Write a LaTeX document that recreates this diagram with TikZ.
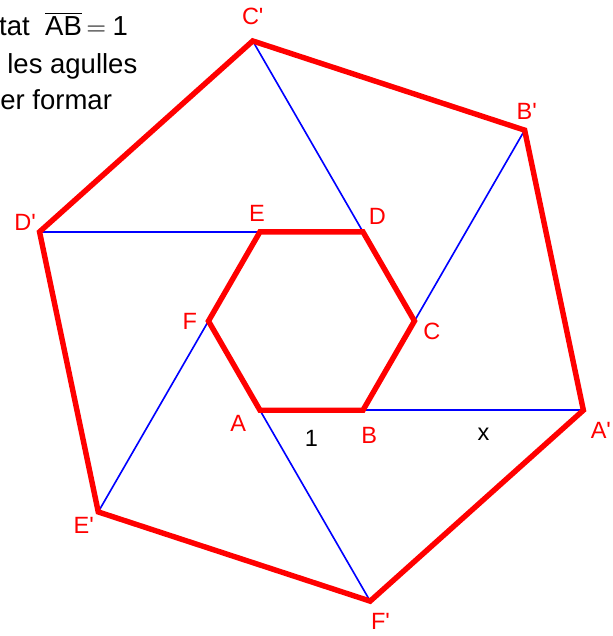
\documentclass[tikz,border=0pt]{standalone}
\usepackage{fontspec}
\newfontfamily\lblfont{Liberation Sans}
\usepackage{xcolor}
\usetikzlibrary{calc}
\definecolor{hexred}{HTML}{FF0000}
\definecolor{hexblue}{HTML}{0000FF}
\newcommand{\xlen}{2.14}

\tikzset{
  hexline/.style={hexred, line width=3pt},
  prolong/.style={hexblue, line width=0.9pt},
  vlabel/.style={text=hexred, font=\lblfont\fontsize{13}{15}\selectfont, inner sep=0pt},
  txtlabel/.style={text=black, font=\lblfont\fontsize{13}{15}\selectfont, inner sep=0pt},
  enunciat/.style={text=black, font=\lblfont\fontsize{15.2}{18}\selectfont, inner sep=0pt, anchor=base west}
}

\begin{document}
\begin{tikzpicture}[x=2cm, y=2cm]
  \useasboundingbox (-3.024,-3.058) rectangle (2.927,3.117);
  % hexagon interior
  \coordinate (A) at (240:1);
  \coordinate (B) at (300:1);
  \coordinate (C) at (0:1);
  \coordinate (D) at (60:1);
  \coordinate (E) at (120:1);
  \coordinate (F) at (180:1);
  % costats prolongats
  \coordinate (A') at ($(A)!1+\xlen!(B)$);
  \coordinate (B') at ($(B)!1+\xlen!(C)$);
  \coordinate (C') at ($(C)!1+\xlen!(D)$);
  \coordinate (D') at ($(D)!1+\xlen!(E)$);
  \coordinate (E') at ($(E)!1+\xlen!(F)$);
  \coordinate (F') at ($(F)!1+\xlen!(A)$);
  \draw[prolong] (B) -- (A');
  \draw[prolong] (C) -- (B');
  \draw[prolong] (D) -- (C');
  \draw[prolong] (E) -- (D');
  \draw[prolong] (F) -- (E');
  \draw[prolong] (A) -- (F');
  \draw[hexline] (A) -- (B) -- (C) -- (D) -- (E) -- (F) -- cycle;
  \draw[hexline] (A') -- (B') -- (C') -- (D') -- (E') -- (F') -- cycle;
  % etiquetes
  \node[vlabel] (lA) at ($(A)+(-0.21,-0.13)$) {A};
  \node[vlabel] (lB) at ($(B)+(0.06,-0.24)$) {B};
  \node[vlabel] (lC) at ($(C)+(0.17,-0.10)$) {C};
  \node[vlabel] (lD) at ($(D)+(0.14,0.15)$) {D};
  \node[vlabel] (lE) at ($(E)+(-0.03,0.18)$) {E};
  \node[vlabel] (lF) at ($(F)+(-0.18,0)$) {F};
  \node[vlabel] (lA') at ($(A')+(0.17,-0.20)$) {A'};
  \node[vlabel] (lB') at ($(B')+(0.02,0.18)$) {B'};
  \node[vlabel] (lC') at ($(C')+(0,0.24)$) {C'};
  \node[vlabel] (lD') at ($(D')+(-0.14,0.09)$) {D'};
  \node[vlabel] (lE') at ($(E')+(-0.14,-0.13)$) {E'};
  \node[vlabel] (lF') at ($(F')+(0.10,-0.20)$) {F'};
  \node[txtlabel] (one) at ($(A)!0.5!(B)+(0,-0.27)$) {1};
  \node[txtlabel] (xlab) at ($(B)!0.5!(A')+(0.10,-0.23)$) {x};
  % text de l'enunciat
  \node[enunciat] (line1) at (-3.035,2.777) {tat\hspace{8.5pt}$\overline{\hbox{AB}}$\kern2.5pt$=$\kern3.5pt1};
  \node[enunciat] (line2) at (-2.956,2.408) {les agulles};
  \node[enunciat] (line3) at (-3.024,2.049) {er formar};
\end{tikzpicture}
\end{document}
